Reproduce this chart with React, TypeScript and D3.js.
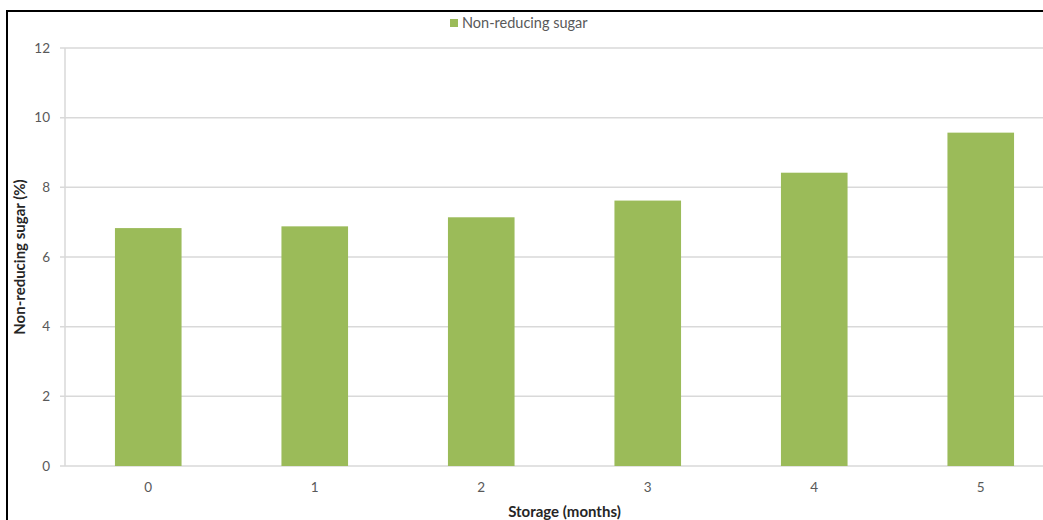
import React from "react";
import * as d3 from "d3";

const months = ["0", "1", "2", "3", "4", "5"];
const nonReducingSugar = [6.83, 6.88, 7.14, 7.62, 8.42, 9.57];
const yTicks = [0, 2, 4, 6, 8, 10, 12];
const seriesName = "Non-reducing sugar";
const xTitle = "Storage (months)";
const yTitle = "Non-reducing sugar (%)";

const W = 1043;
const H = 520;
const plot = { left: 65, top: 48, right: 1064, bottom: 466 };
const font = "Lato, 'Open Sans', sans-serif";
const barColor = "#9bbb59";
const gridColor = "#d9d9d9";
const textColor = "#595959";

export default function App() {
  const x = d3
    .scaleBand<string>()
    .domain(months)
    .range([plot.left, plot.right])
    .paddingInner(0.6)
    .paddingOuter(0.3);
  const y = d3.scaleLinear().domain([0, 12]).range([plot.bottom, plot.top]);

  return (
    <svg
      width={W}
      height={H}
      style={{ position: "absolute", left: 0, top: 0, background: "#fff" }}
      fontFamily={font}
    >
      {/* gridlines and y ticks */}
      {yTicks.map((t) => (
        <g key={t}>
          <line
            x1={plot.left - 5}
            x2={plot.right}
            y1={y(t)}
            y2={y(t)}
            stroke={gridColor}
            strokeWidth={1.5}
          />
          <text
            x={plot.left - 15}
            y={y(t)}
            dy="0.35em"
            textAnchor="end"
            fontSize={13.5}
            fill={textColor}
          >
            {t}
          </text>
        </g>
      ))}
      {/* y axis line */}
      <line
        x1={plot.left}
        x2={plot.left}
        y1={plot.top}
        y2={plot.bottom}
        stroke={gridColor}
        strokeWidth={1.5}
      />
      {/* bars */}
      {months.map((m, i) => (
        <rect
          key={m}
          x={x(m)}
          y={y(nonReducingSugar[i])}
          width={x.bandwidth()}
          height={y(0) - y(nonReducingSugar[i])}
          fill={barColor}
        />
      ))}
      {/* x tick labels */}
      {months.map((m) => (
        <text
          key={"l" + m}
          x={(x(m) as number) + x.bandwidth() / 2}
          y={487}
          dy="0.35em"
          textAnchor="middle"
          fontSize={13.5}
          fill={textColor}
        >
          {m}
        </text>
      ))}
      {/* axis titles */}
      <text
        x={(plot.left + plot.right) / 2}
        y={512}
        dy="0.35em"
        textAnchor="middle"
        fontSize={15}
        fontWeight="bold"
        fill="#262626"
      >
        {xTitle}
      </text>
      <text
        transform={`translate(20, ${(plot.top + plot.bottom) / 2}) rotate(-90)`}
        dy="0.35em"
        textAnchor="middle"
        fontSize={15}
        fontWeight="bold"
        fill="#262626"
      >
        {yTitle}
      </text>
      {/* legend */}
      <rect x={450} y={19} width={8} height={8} fill={barColor} />
      <text x={462} y={23} dy="0.35em" fontSize={14.5} fill={textColor}>
        {seriesName}
      </text>
      {/* outer frame */}
      <rect
        x={7}
        y={11}
        width={W + 20}
        height={H + 20}
        fill="none"
        stroke="#000"
        strokeWidth={2}
      />
    </svg>
  );
}
